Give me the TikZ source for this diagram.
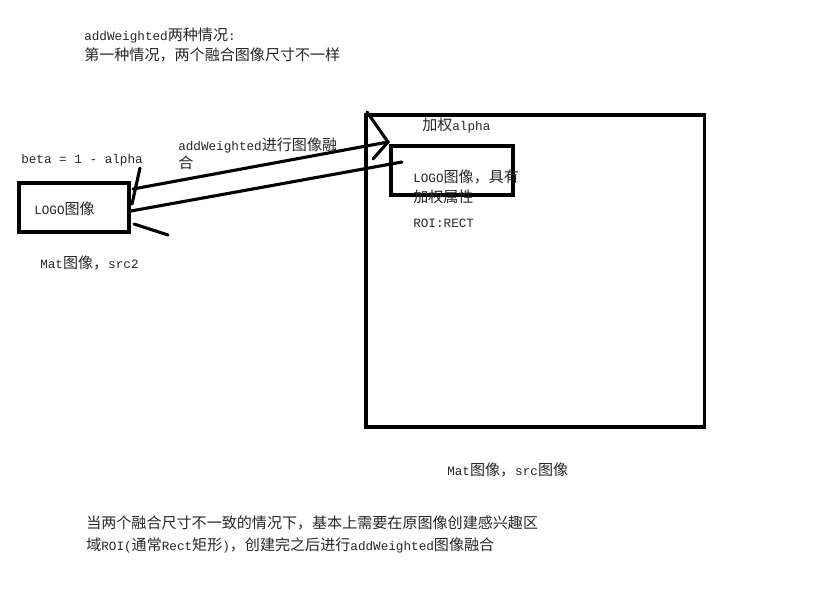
\documentclass[tikz,border=0pt]{standalone}
\usepackage{fontspec}
\setmainfont{Liberation Mono}
\newfontfamily\cjk[Scale=1.19]{Noto Sans CJK SC}
\usetikzlibrary{positioning}
\tikzset{
  box/.style={draw, line width=2.2pt, inner sep=0pt},
  note/.style={anchor=west, inner sep=0pt, font=\fontsize{9}{12}\selectfont, text=black!85},
  stroke/.style={line width=2.2pt, line cap=round},
}

\begin{document}
\begin{tikzpicture}[x=0.025cm, y=-0.025cm]
  \useasboundingbox (0,0) rectangle (824,590);
  % frames
  \node[box, minimum width=8.45cm, minimum height=7.8cm] (src) at (535,271) {};
  \node[box, minimum width=2.75cm, minimum height=1.225cm] (logo) at (74,207.5) {};
  \node[box, minimum width=3.05cm, minimum height=1.225cm] (roi) at (452,170.5) {};
  % texts
  \node[note] (t1) at (84,35) {addWeighted{\cjk 两种情况}:};
  \node[note] (t2) at (84,55) {\cjk 第一种情况，两个融合图像尺寸不一样};
  \node[note] (beta) at (21,160) {beta = 1 - alpha};
  \node[note] (fuse) at (178,145) {addWeighted{\cjk 进行图像融}};
  \node[note] (fuse2) at (178,163) {\cjk 合};
  \node[note] (alpha) at (422,125) {{\cjk 加权}alpha};
  \node[note] (logotxt) at (34,209) {LOGO{\cjk 图像}};
  \node[note] (roitxt) at (413,177) {LOGO{\cjk 图像，具有}};
  \node[note] (roitxt2) at (413,197) {\cjk 加权属性};
  \node[note] (rect) at (413,223) {ROI:RECT};
  \node[note] (src2) at (40,263) {Mat{\cjk 图像，}src2};
  \node[note] (srctxt) at (447,470) {Mat{\cjk 图像，}src{\cjk 图像}};
  \node[note] (b1) at (86,523) {\cjk 当两个融合尺寸不一致的情况下，基本上需要在原图像创建感兴趣区};
  \node[note] (b2) at (86,545) {{\cjk 域}ROI({\cjk 通常}Rect{\cjk 矩形}){\cjk ，创建完之后进行}addWeighted{\cjk 图像融合}};
  % hand drawn arrows
  \coordinate (upA) at (133,189);
  \coordinate (upB) at (388,142);
  \coordinate (loA) at (131,211);
  \coordinate (loB) at (402,162);
  \draw[stroke] (upA) -- (upB);
  \draw[stroke] (367,112) -- (upB) -- (373,159);
  \draw[stroke] (loB) -- (loA);
  \draw[stroke] (140,168) -- (132,204);
  \draw[stroke] (134,224) -- (168,235);
\end{tikzpicture}
\end{document}
